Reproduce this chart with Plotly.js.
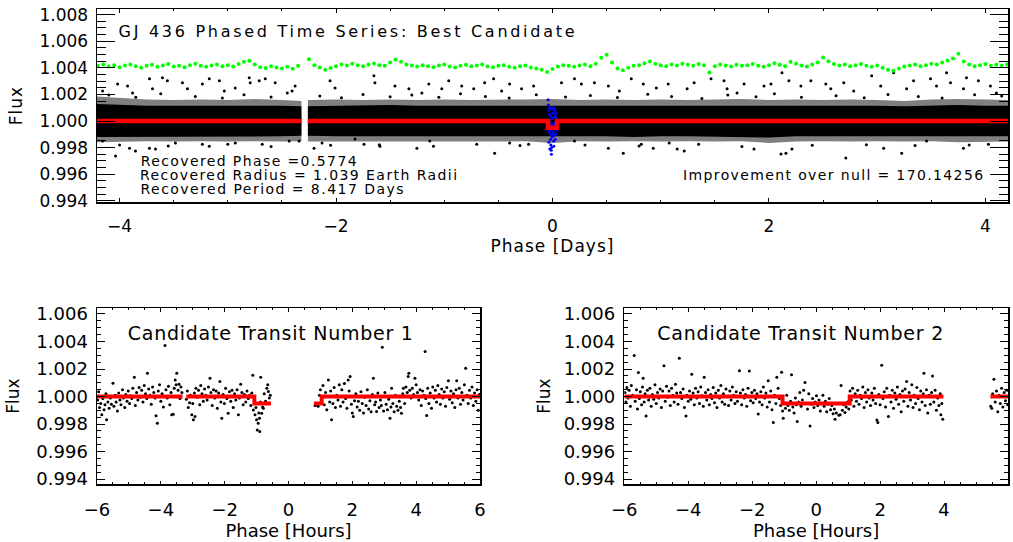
<!DOCTYPE html>
<html><head><meta charset="utf-8">
<script src="https://cdn.plot.ly/plotly-3.0.1.min.js"></script>
<style>
html,body{margin:0;padding:0;background:#fff;}
#chart{width:1013px;height:542px;}
.xtitle,.ytitle{letter-spacing:1px;}
</style>
</head><body><div id="chart"></div>
<script>
// ---------------- TOP PANEL DATA (phase in days, relative flux) ----------------
// dense core of the phased light curve: envelope
const envPhase   = [-4.2085,-4.0,-3.75,-3.5,-3.25,-3.0,-2.75,-2.5,-2.32,null,
  -2.26,-2.0,-1.75,-1.5,-1.25,-1.0,-0.75,-0.5,-0.25,0.0,0.25,0.5,0.75,1.0,1.25,1.5,1.75,2.0,2.25,2.5,2.75,3.0,3.25,3.5,3.75,4.0,4.2085];
const outerUpper = [1.00185,1.00175,1.00162,1.00158,1.00162,1.00158,1.00166,1.00158,1.00150,null,
  1.00158,1.00162,1.00158,1.00162,1.00158,1.00162,1.00158,1.00158,1.00162,1.00166,1.00158,1.00162,1.00158,1.00162,1.00158,1.00162,1.00166,1.00158,1.00162,1.00158,1.00162,1.00158,1.00150,1.00162,1.00166,1.00162,1.00158];
const outerLower = [0.99840,0.99845,0.99848,0.99845,0.99848,0.99845,0.99848,0.99845,0.99848,null,
  0.99845,0.99848,0.99845,0.99848,0.99845,0.99848,0.99845,0.99845,0.99848,0.99835,0.99848,0.99845,0.99848,0.99845,0.99848,0.99845,0.99848,0.99835,0.99845,0.99848,0.99845,0.99848,0.99845,0.99848,0.99840,0.99845,0.99845];
const innerUpper = [1.00128,1.00120,1.00115,1.00115,1.00115,1.00115,1.00120,1.00115,1.00110,null,
  1.00110,1.00115,1.00115,1.00120,1.00115,1.00115,1.00120,1.00115,1.00115,1.00120,1.00115,1.00115,1.00115,1.00120,1.00115,1.00115,1.00120,1.00115,1.00115,1.00115,1.00120,1.00115,1.00110,1.00115,1.00120,1.00115,1.00115];
const innerLower = [0.99880,0.99885,0.99885,0.99885,0.99885,0.99880,0.99885,0.99885,0.99890,null,
  0.99890,0.99885,0.99885,0.99880,0.99885,0.99885,0.99885,0.99885,0.99885,0.99880,0.99885,0.99885,0.99880,0.99885,0.99885,0.99885,0.99880,0.99875,0.99885,0.99885,0.99880,0.99885,0.99885,0.99885,0.99880,0.99885,0.99885];

// scattered individual points outside the dense core
const topPtPhase = [
  -4.157,-4.018,-3.926,-3.880,-3.724,-3.696,-3.604,-3.558,-3.419,-3.373,-3.235,-3.171,-3.078,-3.032,-2.931,-2.802,-2.793,-2.710,-2.654,-2.562,-2.378,-2.406,-2.055,-2.009,
  -4.037,-4.157,-3.908,-3.853,-3.724,-3.668,-3.484,-3.235,-3.171,-2.931,-2.682,-2.433,-2.341,-2.203,-2.129,
  -1.650,-1.641,-1.456,-1.327,-1.207,-1.143,-1.023,-0.959,-0.839,-0.728,-0.627,-0.544,-0.470,-0.396,-0.286,-0.175,0.083,0.203,0.267,0.387,0.516,0.618,0.728,0.839,0.959,1.069,
  -1.825,-1.742,-1.594,-1.253,-1.134,-0.535,-0.396,-0.221,0.203,0.516,0.654,0.820,0.931,1.078,
  1.244,1.309,1.465,1.585,1.613,1.705,1.770,1.954,2.018,2.120,2.184,2.295,2.387,2.525,2.571,2.691,2.783,2.949,3.032,3.152,3.272,3.336,3.493,3.548,3.641,3.677,3.797,3.825,3.935,4.046,4.101,
  1.152,1.217,1.862,2.111,2.157,2.212,2.710,3.060,3.226,3.456,3.797,4.028,
  -4.10,-3.85,-3.62,-3.30,-3.05,-2.85,-2.60,-2.45,-2.15,-1.95,-1.75,-1.50,-1.30,-1.05,-0.85,-0.62,-0.40,-0.15,0.12,0.35,0.60,0.88,1.10,1.38,1.62,1.88,2.05,2.30,2.62,2.88,3.10,3.38,3.60,3.90,4.15,
  -4.00,-3.55,-3.00,-2.60,-2.05,-1.60,-1.10,-0.70,-0.30,0.30,0.80,1.35,1.75,2.40,2.90,3.35,3.85];
const topPtFlux = [
  1.00226,1.00279,1.00264,1.00211,1.00317,1.00242,1.00325,1.00302,1.00287,1.00242,1.00279,1.00317,1.00302,1.00226,1.00249,1.00325,1.00287,1.00302,1.00317,1.00287,1.00264,1.00226,1.00302,1.00249,
  0.99736,0.99849,0.99796,0.99774,0.99796,0.99789,0.99834,0.99826,0.99811,0.99834,0.99826,0.99849,0.99849,0.99796,0.99834,
  1.00340,1.00287,1.00264,1.00242,1.00211,1.00279,1.00242,1.00302,1.00264,1.00242,1.00287,1.00317,1.00226,1.00279,1.00242,1.00264,1.00287,1.00317,1.00279,1.00287,1.00264,1.00226,1.00317,1.00279,1.00249,1.00279,
  0.99864,0.99826,0.99811,0.99796,0.99849,0.99758,0.99834,0.99826,0.99849,0.99796,0.99758,0.99826,0.99796,0.99834,
  1.00242,1.00287,1.00317,1.00302,1.00242,1.00211,1.00279,1.00264,1.00279,1.00362,1.00302,1.00264,1.00302,1.00279,1.00242,1.00287,1.00226,1.00340,1.00264,1.00362,1.00242,1.00302,1.00317,1.00264,1.00362,1.00287,1.00242,1.00325,1.00302,1.00264,1.00211,
  0.99789,0.99774,0.99789,0.99751,0.99758,0.99789,0.99721,0.99796,0.99758,0.99849,0.99796,0.99826,
  1.00195,1.00178,1.00205,1.00185,1.00172,1.00198,1.00180,1.00210,1.00188,1.00175,1.00200,1.00182,1.00195,1.00178,1.00205,1.00185,1.00172,1.00198,1.00180,1.00192,1.00176,1.00202,1.00184,1.00170,1.00196,1.00182,1.00205,1.00178,1.00190,1.00175,1.00200,1.00185,1.00172,1.00198,1.00188,
  0.99820,0.99812,0.99825,0.99808,0.99818,0.99822,0.99810,0.99825,0.99815,0.99820,0.99812,0.99825,0.99808,0.99818,0.99822,0.99815,0.99820];

// in-transit points (blue)
const bluePhase = [-0.040,-0.038,-0.035,-0.030,-0.028,-0.025,-0.022,-0.020,-0.018,-0.015,-0.012,-0.010,-0.008,-0.005,-0.002,0.000,0.003,0.005,0.008,0.010,0.012,0.015,0.018,0.020,0.022,0.025,0.028,0.030,0.033,0.035,0.038,0.040,-0.036,-0.032,-0.026,-0.016,-0.006,0.006,0.016,0.026,0.032,-0.034,-0.024,0.012,-0.012];
const blueFlux  = [1.0016,1.0012,1.0008,1.0005,1.0001,0.9997,0.9993,0.9990,0.9986,0.9982,0.9978,0.9975,0.9980,0.9988,0.9995,1.0002,1.0006,0.9998,0.9992,0.9985,0.9981,0.9989,0.9996,1.0003,1.0008,1.0004,0.9999,0.9994,0.9990,0.9997,1.0002,0.9993,0.9999,0.9992,1.0010,1.0004,1.0009,0.9990,0.9998,0.9986,1.0006,0.9984,0.9979,1.0010,0.9995];

// binned light curve (green), offset upward; bins start at phase -4.20 every 0.05 d
const greenStart = -4.20, greenStep = 0.05;
const greenFlux = [
  1.00415,1.00425,1.00410,1.00420,1.00405,1.00418,1.00425,1.00412,1.00400,1.00415,
  1.00422,1.00408,1.00418,1.00428,1.00410,1.00415,1.00405,1.00420,1.00430,1.00415,
  1.00408,1.00418,1.00425,1.00412,1.00420,1.00410,1.00428,1.00445,1.00452,1.00425,
  1.00405,1.00398,1.00412,1.00402,1.00395,1.00408,1.00392,1.00415,null,1.00465,
  1.00420,1.00402,1.00385,1.00398,1.00412,1.00425,1.00418,1.00430,1.00420,1.00412,
  1.00425,1.00432,1.00420,1.00415,1.00440,1.00462,1.00445,1.00425,1.00418,1.00410,
  1.00420,1.00412,1.00405,1.00418,1.00425,1.00410,1.00402,1.00415,1.00422,1.00412,
  1.00418,1.00425,1.00410,1.00405,1.00415,1.00420,1.00408,1.00400,1.00412,1.00418,
  1.00402,1.00395,1.00385,1.00368,1.00390,1.00410,1.00420,1.00415,1.00408,1.00418,
  1.00425,1.00412,1.00430,1.00475,1.00498,1.00440,1.00395,1.00382,1.00400,1.00415,
  1.00420,1.00435,1.00448,1.00430,1.00420,1.00412,1.00425,1.00418,1.00430,1.00422,
  1.00415,1.00428,1.00420,1.00365,1.00412,1.00425,1.00418,1.00410,1.00422,1.00415,
  1.00420,1.00428,1.00415,1.00408,1.00420,1.00435,1.00422,1.00412,1.00445,1.00430,
  1.00418,1.00410,1.00425,1.00440,1.00478,1.00450,1.00428,1.00418,1.00425,1.00412,
  1.00420,1.00428,1.00415,1.00408,1.00418,1.00400,1.00385,1.00378,1.00395,1.00410,
  1.00418,1.00425,1.00412,1.00420,1.00430,1.00425,1.00440,1.00455,1.00470,1.00505,
  1.00448,1.00425,1.00412,1.00420,1.00428,1.00415,1.00422,1.00418,1.00425];

// box transit model (red)
const modelPhase = [-4.2085,-2.32,null,-2.26,-0.042,0.042,4.2085];
const modelFlux  = [1.0,1.0,null,1.0,0.9995,1.0,1.0];

// ---------------- BOTTOM-LEFT: candidate transit 1 (phase in hours) ----------------
const t1Hours = [
  -5.98,-5.95,-5.92,-5.88,-5.85,-5.82,-5.78,-5.75,-5.72,-5.70,
  -5.66,-5.62,-5.58,-5.55,-5.50,-5.47,-5.43,-5.40,-5.36,-5.32,
  -5.28,-5.25,-5.20,-5.17,-5.13,-5.10,-5.06,-5.02,-4.98,-4.95,
  -4.91,-4.88,-4.83,-4.80,-4.76,-4.72,-4.68,-4.64,-4.60,-4.56,
  -4.52,-4.48,-4.44,-4.42,-4.38,-4.34,-4.30,-4.26,-4.22,-4.18,
  -4.15,-4.11,-4.08,-4.04,-4.00,-3.96,-3.92,-3.87,-3.84,-3.80,
  -3.76,-3.72,-3.68,-3.66,-3.61,-3.58,-3.55,-3.52,-3.50,-3.46,
  -3.43,-3.40,-3.37,-3.34,
  -3.20,-3.17,-3.14,-3.10,-3.07,-3.03,-3.00,-2.98,-2.95,-2.93,
  -2.90,-2.86,-2.82,-2.78,-2.75,-2.71,-2.67,-2.63,-2.59,-2.55,
  -2.51,-2.46,-2.43,-2.39,-2.35,-2.31,-2.27,-2.23,-2.19,-2.15,
  -2.12,-2.09,-2.05,-2.01,-1.97,-1.93,-1.89,-1.85,-1.81,-1.77,
  -1.73,-1.69,-1.65,-1.61,-1.57,-1.54,-1.50,-1.46,-1.42,-1.38,
  -1.34,-1.30,-1.26,-1.22,-1.18,-1.15,-1.12,-1.10,-1.07,-1.05,
  -1.02,-1.00,-0.98,-0.95,-0.93,-0.91,-0.90,-0.88,-0.87,-0.84,
  -0.81,-0.79,-0.76,-0.72,-0.68,-0.65,-0.63,-0.60,-0.57,
  0.83,0.88,0.93,0.97,1.00,1.04,1.08,1.12,1.16,1.20,
  1.25,1.29,1.32,1.35,1.39,1.43,1.47,1.51,1.55,1.59,
  1.63,1.67,1.71,1.75,1.79,1.83,1.87,1.90,1.93,1.97,
  2.00,2.03,2.07,2.11,2.15,2.19,2.23,2.27,2.31,2.35,
  2.39,2.43,2.47,2.51,2.55,2.59,2.63,2.66,2.70,2.73,
  2.76,2.80,2.84,2.88,2.91,2.94,2.98,3.02,3.06,3.10,
  3.14,3.18,3.21,3.23,3.27,3.31,3.35,3.39,3.43,3.47,
  3.51,3.54,3.58,3.60,3.64,3.68,3.72,3.75,3.77,3.80,
  3.84,3.88,3.92,3.96,4.00,4.04,4.08,4.12,4.16,4.20,
  4.24,4.28,4.30,4.33,4.36,4.40,4.44,4.48,4.52,4.56,
  4.60,4.64,4.68,4.72,4.76,4.80,4.84,4.88,4.92,4.96,
  5.01,5.05,5.09,5.13,5.17,5.21,5.25,5.27,5.31,5.35,
  5.39,5.43,5.47,5.51,5.55,5.59,5.63,5.67,5.71,5.75,
  5.79,5.83,5.87,5.91,5.95,5.98];
const t1Flux = [
  0.99975,1.00035,0.99920,0.99950,0.99867,0.99985,0.99905,0.99940,1.00020,0.99831,
  0.99960,0.99915,0.99990,0.99945,1.00097,0.99930,1.00010,0.99960,0.99895,1.00025,
  0.99975,0.99940,1.00050,0.99990,0.99920,1.00015,0.99965,1.00040,0.99950,1.00005,
  0.99985,1.00060,1.00140,0.99935,1.00030,0.99975,1.00065,0.99995,1.00045,0.99960,
  1.00080,1.00020,0.99985,1.00169,1.00055,1.00010,0.99945,1.00070,1.00030,0.99990,
  0.99860,0.99806,1.00040,1.00085,0.99965,1.00020,0.99925,1.00370,1.00050,0.99990,
  1.00075,0.99940,1.00030,0.99867,0.99872,1.00060,1.00121,1.00085,1.00169,1.00045,
  1.00090,0.99985,1.00070,1.00030,
  0.99980,1.00040,0.99920,0.99955,1.00010,0.99867,0.99950,0.99831,1.00025,0.99855,
  1.00060,0.99995,1.00045,0.99940,1.00080,1.00020,0.99965,1.00055,1.00010,0.99975,
  1.00070,1.00133,1.00030,0.99935,1.00050,0.99990,1.00040,0.99915,1.00025,1.00109,
  0.99960,0.99843,1.00015,0.99950,1.00060,0.99985,0.99879,1.00035,0.99965,1.00045,
  0.99920,1.00020,0.99975,1.00050,0.99867,0.99990,1.00090,1.00030,0.99940,1.00015,
  0.99960,1.00040,0.99985,1.00010,0.99935,1.00025,1.00155,0.99903,0.99955,0.99867,
  0.99920,0.99831,0.99758,0.99806,0.99880,0.99843,0.99746,0.99960,1.00140,0.99879,
  0.99925,0.99915,1.00020,0.99965,1.00061,1.00085,1.00036,0.99990,1.00010,
  0.99935,0.99939,0.99930,1.00010,1.00050,0.99975,1.00080,0.99940,1.00030,0.99905,
  1.00121,0.99960,1.00040,0.99831,0.99950,1.00065,0.99920,1.00010,0.99975,1.00085,
  0.99930,1.00050,0.99960,1.00095,0.99985,0.99915,1.00121,1.00040,1.00145,0.99945,
  0.99880,0.99855,0.99970,1.00020,0.99925,0.99965,0.99900,1.00035,0.99950,0.99880,
  0.99995,0.99935,1.00050,0.99910,0.99970,0.99890,1.00015,1.00133,0.99940,0.99960,
  0.99891,1.00025,0.99920,0.99975,0.99935,1.00358,0.99895,1.00030,0.99945,0.99905,
  0.99980,0.99843,0.99925,1.00061,0.99950,0.99890,1.00010,0.99930,0.99900,0.99965,
  0.99920,0.99879,1.00020,1.00061,0.99950,1.00070,1.00030,1.00145,1.00169,1.00045,
  0.99990,1.00060,1.00015,1.00133,1.00085,1.00030,0.99975,1.00050,0.99935,1.00040,
  1.00010,1.00327,0.99985,0.99862,1.00060,0.99950,1.00025,0.99915,1.00070,0.99990,
  1.00045,0.99960,1.00080,1.00015,0.99945,1.00055,0.99990,1.00035,0.99930,1.00065,
  1.00114,0.99980,1.00040,0.99955,1.00020,0.99920,1.00050,1.00114,0.99990,1.00060,
  0.99945,1.00030,0.99975,1.00085,1.00206,1.00010,0.99950,1.00045,0.99990,1.00070,
  0.99935,1.00025,0.99965,1.00050,0.99900,1.00015];
const t1ModelHours = [-6.0,-3.32,null,-3.20,-1.07,-0.55,null,0.80,1.04,6.0];
const t1ModelFlux  = [1.0,1.0,null,1.0,0.9995,0.9995,null,0.9995,1.0,1.0];

// ---------------- BOTTOM-RIGHT: candidate transit 2 (phase in hours) ----------------
const t2Hours = [
  -5.98,-5.95,-5.92,-5.88,-5.85,-5.81,-5.78,-5.74,-5.69,-5.66,
  -5.62,-5.59,-5.56,-5.53,-5.50,-5.46,-5.43,-5.41,-5.38,-5.35,
  -5.32,-5.28,-5.24,-5.20,-5.16,-5.12,-5.08,-5.04,-5.00,-4.96,
  -4.92,-4.88,-4.84,-4.80,-4.76,-4.72,-4.68,-4.64,-4.60,-4.56,
  -4.52,-4.48,-4.44,-4.40,-4.36,-4.32,-4.28,-4.24,-4.20,-4.16,
  -4.12,-4.07,-4.04,-4.00,-3.96,-3.92,-3.89,-3.85,-3.81,-3.77,
  -3.73,-3.69,-3.65,-3.61,-3.57,-3.53,-3.50,-3.46,-3.42,-3.38,
  -3.34,-3.30,-3.26,-3.22,-3.18,-3.14,-3.10,-3.06,-3.02,-2.98,
  -2.94,-2.90,-2.86,-2.82,-2.78,-2.74,-2.70,-2.66,-2.62,-2.58,
  -2.54,-2.50,-2.46,-2.40,-2.37,-2.33,-2.29,-2.25,-2.21,-2.17,
  -2.13,-2.09,-2.05,-2.01,-1.97,-1.93,-1.89,-1.85,-1.81,-1.77,
  -1.73,-1.69,-1.65,-1.61,-1.57,-1.53,-1.50,-1.46,-1.42,-1.38,
  -1.34,-1.30,-1.26,-1.23,-1.19,-1.15,-1.11,-1.08,-1.05,-1.03,
  -1.00,-0.96,-0.92,-0.88,-0.84,-0.80,-0.77,-0.73,-0.69,-0.65,
  -0.62,-0.59,-0.55,-0.51,-0.47,-0.43,-0.39,-0.35,-0.31,-0.27,
  -0.23,-0.19,-0.15,-0.11,-0.07,-0.03,0.01,0.05,0.09,0.13,
  0.17,0.21,0.25,0.29,0.33,0.37,0.41,0.45,0.49,0.53,
  0.57,0.59,0.63,0.67,0.71,0.75,0.78,0.82,0.86,0.90,
  0.94,0.98,1.02,1.06,1.10,1.14,1.18,1.22,1.26,1.30,
  1.34,1.38,1.42,1.46,1.50,1.54,1.58,1.62,1.66,1.70,
  1.74,1.78,1.82,1.86,1.90,1.93,1.96,2.00,2.05,2.09,
  2.13,2.17,2.21,2.26,2.30,2.34,2.38,2.42,2.46,2.50,
  2.54,2.58,2.62,2.66,2.70,2.74,2.78,2.83,2.87,2.91,
  2.95,2.99,3.03,3.07,3.11,3.15,3.19,3.23,3.27,3.31,
  3.35,3.37,3.41,3.45,3.49,3.53,3.57,3.61,3.64,3.68,
  3.72,3.76,3.80,3.84,3.88,3.90,3.93,3.96,
  5.46,5.49,5.52,5.56,5.60,5.64,5.68,5.72,5.76,5.80,
  5.84,5.88,5.92,5.96,5.99];
const t2Flux = [
  1.00030,0.99960,1.00065,0.99990,1.00045,0.99930,1.00080,1.00010,1.00298,0.99965,
  1.00050,0.99910,1.00175,0.99985,1.00035,0.99940,1.00070,1.00133,0.99960,1.00020,
  0.99859,1.00045,0.99975,1.00060,0.99930,1.00015,0.99980,1.00085,0.99950,1.00030,
  0.99990,1.00055,0.99920,1.00040,1.00223,0.99965,1.00075,0.99995,1.00040,0.99935,
  1.00060,1.00010,0.99960,1.00090,1.00025,0.99945,1.00279,1.00030,0.99985,1.00055,
  0.99920,0.99859,1.00010,0.99965,1.00040,0.99980,1.00162,1.00025,0.99940,1.00060,
  0.99990,1.00035,0.99950,1.00070,1.00005,0.99930,1.00141,1.00030,0.99975,1.00050,
  0.99940,1.00015,0.99985,1.00065,0.99955,1.00025,0.99920,1.00045,0.99990,1.00080,
  0.99960,1.00020,0.99945,1.00055,1.00000,0.99935,1.00040,0.99975,1.00070,1.00010,
  0.99950,1.00035,0.99965,1.00187,1.00025,0.99940,1.00050,0.99990,1.00015,0.99930,
  1.00060,1.00186,0.99970,1.00030,0.99955,1.00045,0.99985,1.00020,0.99874,0.99960,
  1.00035,0.99940,1.00070,0.99990,1.00025,0.99925,1.00114,0.99960,1.00040,0.99905,
  0.99811,1.00010,0.99950,1.00141,1.00060,0.99985,0.99935,1.00177,0.99895,0.99842,
  0.99950,0.99915,1.00010,0.99935,0.99900,0.99965,1.00158,0.99925,0.99880,0.99990,
  0.99940,0.99818,0.99960,1.00030,0.99930,0.99975,1.00045,1.00102,0.99950,0.99910,
  1.00020,0.99787,0.99945,0.99985,0.99920,0.99960,1.00005,0.99935,0.99975,0.99895,
  0.99950,1.00010,0.99930,0.99965,0.99890,0.99945,0.99985,0.99905,0.99935,0.99875,
  0.99910,0.99835,0.99880,0.99950,0.99865,0.99867,1.00080,0.99900,0.99940,0.99885,
  0.99925,0.99960,0.99910,1.00040,0.99975,1.00060,0.99930,1.00020,0.99965,1.00045,
  0.99945,1.00010,0.99985,1.00070,0.99920,1.00030,0.99960,1.00050,0.99990,0.99935,
  1.00025,0.99975,1.00060,0.99950,0.99830,0.99811,1.00015,0.99940,1.00228,0.99985,
  1.00035,0.99925,1.00060,0.99855,1.00010,0.99960,1.00045,0.99915,1.00025,0.99980,
  1.00070,0.99945,1.00015,0.99890,1.00040,0.99965,1.00055,1.00109,0.99930,1.00030,
  0.99975,1.00085,0.99920,1.00010,0.99950,1.00065,0.99985,0.99905,1.00040,0.99960,
  1.00020,1.00170,0.99935,1.00050,0.99880,1.00010,0.99945,1.00030,1.00150,0.99960,
  1.00045,0.99900,0.99990,0.99935,1.00020,0.99867,0.99950,0.99835,
  0.99930,0.99915,1.00020,1.00126,0.99960,1.00040,0.99890,1.00010,0.99950,1.00060,
  0.99925,1.00030,0.99970,1.00045,0.99940];
const t2ModelHours = [-6.0,-1.05,1.05,3.98,null,5.45,6.0];
const t2ModelFlux  = [1.0,0.9995,1.0,1.0,null,1.0,1.0];

// ---------------- TEXT ----------------
const plotTitle = 'GJ 436 Phased Time Series: Best Candidate';
const infoLines = ['Recovered Phase =0.5774','Recovered Radius = 1.039 Earth Radii','Recovered Period = 8.417 Days'];
const improvementText = 'Improvement over null = 170.14256';
const transitTitles = ['Candidate Transit Number 1','Candidate Transit Number 2'];

// ---------------- BUILD ----------------
function splitSegments(xs, ys1, ys2){
  const segs=[]; let cur={x:[],a:[],b:[]};
  xs.forEach((x,i)=>{
    if(x===null){ if(cur.x.length) segs.push(cur); cur={x:[],a:[],b:[]}; return; }
    cur.x.push(x); cur.a.push(ys1[i]); cur.b.push(ys2[i]);
  });
  if(cur.x.length) segs.push(cur);
  return segs;
}
function bandTraces(up, lo, color){
  return splitSegments(envPhase, up, lo).map(s=>({
    type:'scatter', mode:'lines', xaxis:'x', yaxis:'y',
    x: s.x.concat(s.x.slice().reverse()),
    y: s.a.concat(s.b.slice().reverse()),
    fill:'toself', fillcolor:color, line:{width:0}, hoverinfo:'skip'
  }));
}
const greenPhase = greenFlux.map((_,i)=>+(greenStart + i*greenStep).toFixed(3));

const traces = [
  ...bandTraces(outerUpper, outerLower, 'rgba(0,0,0,0.5)'),
  ...bandTraces(innerUpper, innerLower, '#000000'),
  {type:'scatter', mode:'markers', x:topPtPhase, y:topPtFlux, xaxis:'x', yaxis:'y',
   marker:{color:'#000', size:3}},
  {type:'scatter', mode:'markers', x:bluePhase, y:blueFlux, xaxis:'x', yaxis:'y',
   marker:{color:'#0000ff', size:3}},
  {type:'scatter', mode:'lines', x:modelPhase, y:modelFlux, xaxis:'x', yaxis:'y',
   line:{color:'#ff0000', width:4.5, shape:'hv'}},
  {type:'scatter', mode:'markers', x:greenPhase, y:greenFlux, xaxis:'x', yaxis:'y',
   marker:{color:'#00ff00', size:4}},
  {type:'scatter', mode:'markers', x:t1Hours, y:t1Flux, xaxis:'x2', yaxis:'y2',
   marker:{color:'#000', size:3}},
  {type:'scatter', mode:'lines', x:t1ModelHours, y:t1ModelFlux, xaxis:'x2', yaxis:'y2',
   line:{color:'#ff0000', width:4, shape:'hv'}},
  {type:'scatter', mode:'markers', x:t2Hours, y:t2Flux, xaxis:'x3', yaxis:'y3',
   marker:{color:'#000', size:3}},
  {type:'scatter', mode:'lines', x:t2ModelHours, y:t2ModelFlux, xaxis:'x3', yaxis:'y3',
   line:{color:'#ff0000', width:4, shape:'hv'}}
];

const W=1013, H=542;
const px = v=>v/W, py = v=>1-v/H;
const FONT = 'DejaVu Sans, Liberation Sans, sans-serif';

function xAxis(domain, range, anchor, titleText, tickSize, titleSize, majLen, labelOff, standoff){
  return {domain, range, anchor, tick0:0, dtick:2, ticks:'inside', ticklen:majLen, tickwidth:1,
    tickcolor:'#000', minor:{dtick:0.5, ticks:'inside', ticklen:Math.max(2,majLen/2), tickwidth:1, tickcolor:'#000'},
    showline:true, mirror:'ticks', linecolor:'#000', linewidth:1.5, showgrid:false, zeroline:false,
    ticklabelstandoff:labelOff,
    tickfont:{family:FONT, size:tickSize, color:'#000'},
    title:{text:titleText, font:{family:FONT, size:titleSize, color:'#000'}, standoff}};
}
function yAxis(domain, range, anchor, tickSize, majLen, standoff){
  return {domain, range, anchor, tick0:1.0, dtick:0.002, tickformat:'.3f', ticks:'inside', ticklen:majLen,
    tickwidth:1, tickcolor:'#000', minor:{dtick:0.0005, ticks:'inside', ticklen:majLen/2, tickwidth:1, tickcolor:'#000'},
    showline:true, mirror:'ticks', linecolor:'#000', linewidth:1.5, showgrid:false, zeroline:false,
    ticklabelstandoff:4,
    tickfont:{family:FONT, size:tickSize, color:'#000'},
    title:{text:'Flux', font:{family:FONT, size:17, color:'#000'}, standoff}};
}

// annotation placement: visual centre (px) and rendered width (px) of each text
const annSpec = [
  {text:plotTitle,        cx:346,   cy:31,  w:456, size:16},
  {text:infoLines[0],     cx:248,   cy:161, w:216, size:14},
  {text:infoLines[1],     cx:298.5, cy:175, w:317, size:14},
  {text:infoLines[2],     cx:271.5, cy:189, w:263, size:14},
  {text:improvementText,  cx:833,   cy:175, w:300, size:14},
  {text:transitTitles[0], cx:270.5, cy:333, w:285, size:19},
  {text:transitTitles[1], cx:800,   cy:333, w:286, size:19}
];

const layout = {
  width:W, height:H, margin:{l:0,r:0,t:0,b:0}, showlegend:false,
  paper_bgcolor:'#fff', plot_bgcolor:'#fff',
  xaxis:  xAxis([px(97),px(1008)], [-4.2085,4.2085], 'y', 'Phase [Days]', 17, 17, 4, 8, 2),
  yaxis:  yAxis([1-202/H, 1-9/H], [0.99391,1.00842], 'x', 17, 18, 12),
  xaxis2: xAxis([px(97),px(480)], [-6,6], 'y2', 'Phase [Hours]', 18, 18, 3.5, 9, 0),
  yaxis2: yAxis([1-484/H, 1-308/H], [0.99365,1.00643], 'x2', 18, 8, 12),
  xaxis3: xAxis([px(624.3),px(1008)], [-6,6], 'y3', 'Phase [Hours]', 18, 18, 3.5, 9, 0),
  yaxis3: yAxis([1-484/H, 1-308/H], [0.99365,1.00643], 'x3', 18, 8, 8),
  annotations: annSpec.map(a=>({text:a.text, x:px(a.cx), y:py(a.cy), xref:'paper', yref:'paper',
     xanchor:'center', yanchor:'middle', showarrow:false,
     font:{family:FONT, size:a.size, color:'#000'}}))
};

Plotly.newPlot('chart', traces, layout, {staticPlot:true, displayModeBar:false}).then(gd=>{
  // stretch letter spacing of each annotation to the wide IDL-style text widths
  annSpec.forEach((a,i)=>{
    const t = gd.querySelector('g.annotation[data-index="'+i+'"] text.annotation-text');
    if(t){ t.setAttribute('textLength', a.w); t.setAttribute('lengthAdjust','spacing'); }
  });
});
</script>
</body></html>
